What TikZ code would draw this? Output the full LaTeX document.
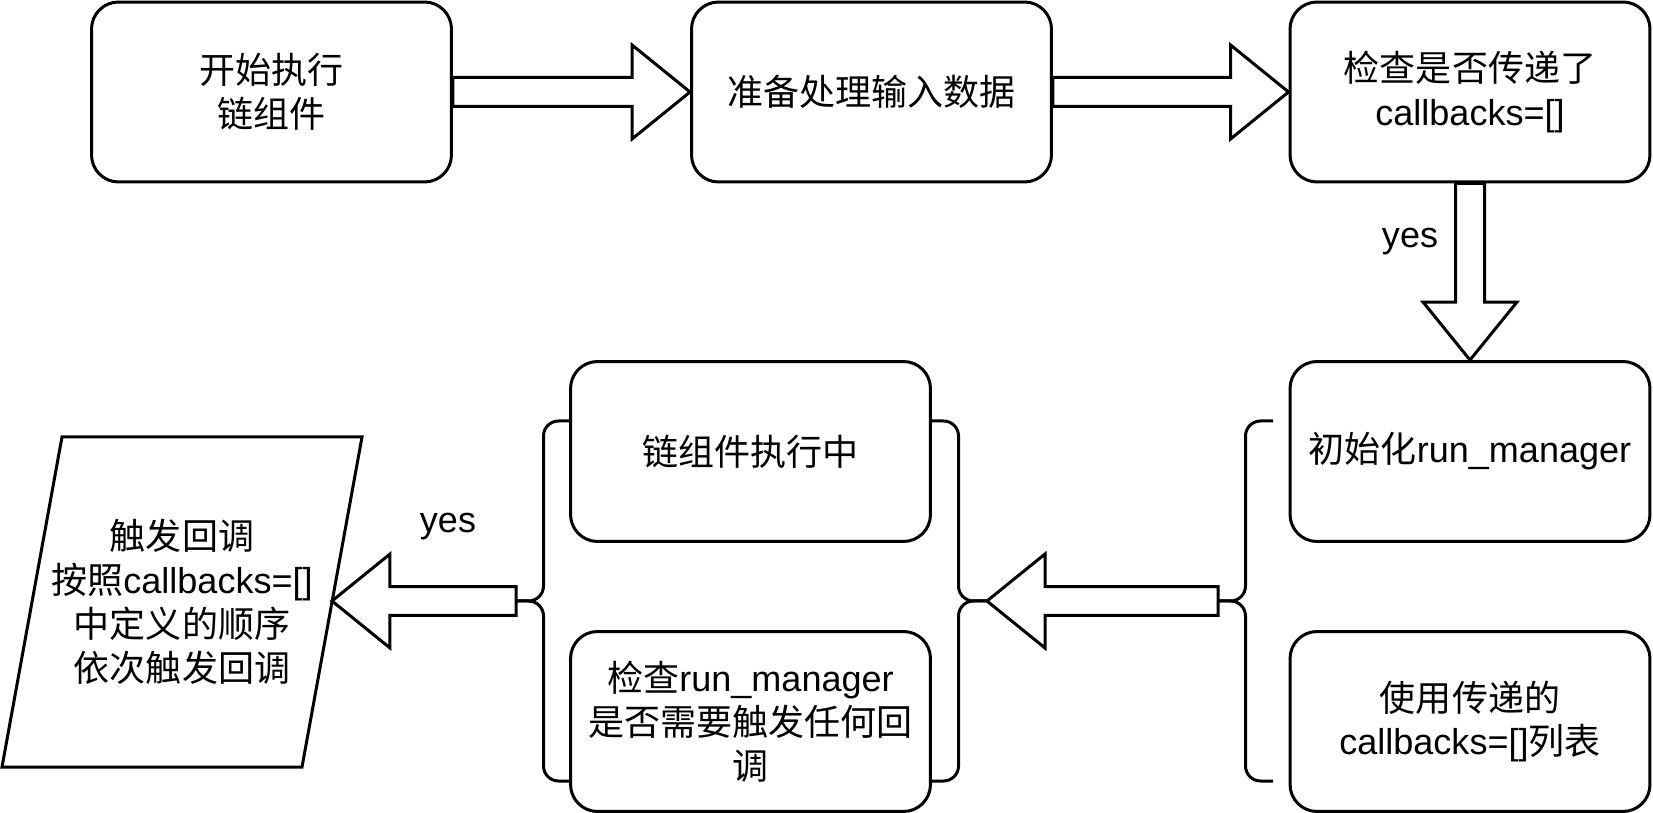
\documentclass[tikz,border=0pt]{standalone}
\usepackage{fontspec}
\setmainfont{Liberation Sans}
\newfontfamily\cjk{Noto Sans CJK SC}
\usetikzlibrary{calc}

\newcommand{\zh}[1]{{\cjk #1}}
\newcommand{\mainsize}{\fontsize{20.5pt}{25pt}\selectfont}

% hollow block arrow from #1 to #2
\newcommand{\fatarrow}[2]{%
	\draw[fat] let \p1=(#1), \p2=(#2),
		\n1={atan2(\y2-\y1,\x2-\x1)}, \n2={veclen(\x2-\x1,\y2-\y1)} in
		($(\p1)+(\n1+90:0.29cm)$)
		-- ($(\p1)+(\n1:\n2-1.16cm)+(\n1+90:0.29cm)$)
		-- ($(\p1)+(\n1:\n2-1.16cm)+(\n1+90:0.94cm)$)
		-- (\p2)
		-- ($(\p1)+(\n1:\n2-1.16cm)+(\n1-90:0.94cm)$)
		-- ($(\p1)+(\n1:\n2-1.16cm)+(\n1-90:0.29cm)$)
		-- ($(\p1)+(\n1-90:0.29cm)$) -- cycle;}

% curly bracket: tip x, box x, top y, bottom y
\newcommand{\curlybrace}[4]{%
	\draw[curly] (#2,#3) -| ({(#1+#2)/2},{(#3+#4)/2}) -- (#1,{(#3+#4)/2});
	\draw[curly] (#2,#4) -| ({(#1+#2)/2},{(#3+#4)/2}) -- (#1,{(#3+#4)/2});}

\tikzset{
	box/.style={draw, rounded corners=0.54cm, minimum width=7.2cm, minimum height=3.6cm,
		align=center, line width=0.06cm, font=\mainsize},
	fat/.style={draw, fill=white, line width=0.06cm},
	curly/.style={line width=0.06cm, rounded corners=0.3cm},
	para/.style={line width=0.06cm},
	lbl/.style={font=\mainsize, align=center},
}

\begin{document}
\begin{tikzpicture}[x=0.02cm, y=-0.02cm]
	\useasboundingbox (0,0) rectangle (1653,813);

	% top row
	\node[box] (start) at (271.5,92) {\zh{开始执行}\\\zh{链组件}};
	\node[box] (prep) at (871.5,92) {\zh{准备处理输入数据}};
	\node[box] (chk) at (1470,92) {\zh{检查是否传递了}\\callbacks=[]};

	% right column
	\node[box] (init) at (1470,451.5) {\zh{初始化}run\_manager};
	\node[box] (use) at (1470,721.5) {\zh{使用传递的}\\callbacks=[]\zh{列表}};

	% middle column
	\node[box] (run) at (750.5,451.5) {\zh{链组件执行中}};
	\node[box] (need) at (750.5,721.5) {\zh{检查}run\_manager\\\zh{是否需要触发任何回}\\\zh{调}};

	% output
	\draw[para] (62,437) -- (362,437) -- (302,767) -- (2,767) -- cycle;
	\node[lbl] (trig) at (182,602) {\zh{触发回调}\\\zh{按照}callbacks=[]\\\zh{中定义的顺序}\\\zh{依次触发回调}};
	\coordinate (trigin) at (332,601);

	% brackets
	\coordinate (bdel) at (1218,601);
	\coordinate (bfgr) at (987,601);
	\coordinate (bfgl) at (516,601);
	\curlybrace{1218}{1273}{421}{781}
	\curlybrace{987}{930}{421}{781}
	\curlybrace{516}{571}{421}{781}

	% arrows
	\fatarrow{start.east}{prep.west}
	\fatarrow{prep.east}{chk.west}
	\fatarrow{chk.south}{init.north}
	\fatarrow{bdel}{bfgr}
	\fatarrow{bfgl}{trigin}

	\node[lbl] (yes1) at (1410,242) {yes};
	\node[lbl] (yes2) at (448,527) {yes};
\end{tikzpicture}
\end{document}
